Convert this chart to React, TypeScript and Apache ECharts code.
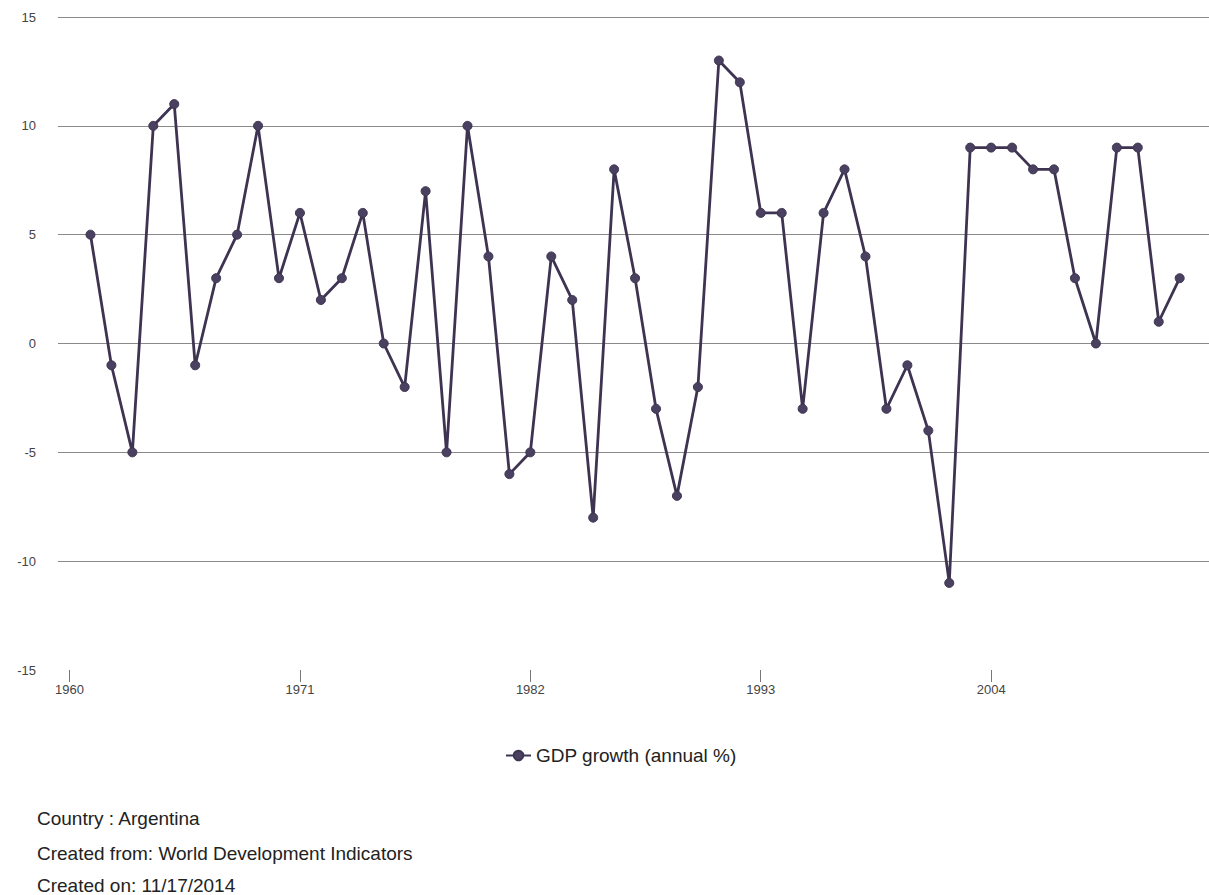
import React, { useEffect, useRef } from "react";
import * as echarts from "echarts";

const years: number[] = [
  1961, 1962, 1963, 1964, 1965, 1966, 1967, 1968, 1969, 1970,
  1971, 1972, 1973, 1974, 1975, 1976, 1977, 1978, 1979, 1980,
  1981, 1982, 1983, 1984, 1985, 1986, 1987, 1988, 1989, 1990,
  1991, 1992, 1993, 1994, 1995, 1996, 1997, 1998, 1999, 2000,
  2001, 2002, 2003, 2004, 2005, 2006, 2007, 2008, 2009, 2010,
  2011, 2012, 2013,
];

const gdpGrowth: number[] = [
  5, -1, -5, 10, 11, -1, 3, 5, 10, 3,
  6, 2, 3, 6, 0, -2, 7, -5, 10, 4,
  -6, -5, 4, 2, -8, 8, 3, -3, -7, -2,
  13, 12, 6, 6, -3, 6, 8, 4, -3, -1,
  -4, -11, 9, 9, 9, 8, 8, 3, 0, 9,
  9, 1, 3,
];

const xTickLabels: number[] = [1960, 1971, 1982, 1993, 2004];
const seriesName = "GDP growth (annual %)";
const footerLines: string[] = [
  "Country : Argentina",
  "Created from: World Development Indicators",
  "Created on: 11/17/2014",
];

export default function App() {
  const ref = useRef<HTMLDivElement>(null);

  useEffect(() => {
    if (!ref.current) return;
    const chart = echarts.init(ref.current, null, { renderer: "svg" });
    const lineColor = "#3e3452";
    const font = "'Liberation Sans', Arial, sans-serif";
    chart.setOption({
      animation: false,
      backgroundColor: "#ffffff",
      textStyle: { fontFamily: font },
      grid: { left: 58, right: 0, top: 17, bottom: 225, containLabel: false },
      xAxis: {
        type: "value",
        min: 1959.45,
        max: 2014.4,
        axisLine: { show: false, onZero: false },
        axisTick: {
          show: true,
          length: 12,
          customValues: xTickLabels,
          lineStyle: { color: "#777", width: 1 },
        },
        axisLabel: {
          customValues: xTickLabels,
          formatter: (v: number) => String(v),
          margin: 13,
          fontSize: 13,
          color: "#444",
          fontFamily: font,
        },
        splitLine: { show: false },
      },
      yAxis: {
        type: "value",
        min: -15,
        max: 15,
        interval: 5,
        axisLine: { show: false },
        axisTick: { show: false },
        axisLabel: { margin: 22, fontSize: 13, color: "#444", fontFamily: font },
        splitLine: {
          show: true,
          showMinLine: false,
          lineStyle: { color: "#8a8a8a", width: 1 },
        },
      },
      legend: {
        left: 500,
        top: 741,
        itemWidth: 25,
        itemHeight: 12,
        itemGap: 10,
        textStyle: { fontSize: 19, color: "#222", fontFamily: font },
        data: [seriesName],
      },
      series: [
        {
          name: seriesName,
          type: "line",
          data: years.map((y, i) => [y, gdpGrowth[i]]),
          symbol: "circle",
          symbolSize: 9,
          showSymbol: true,
          lineStyle: { color: lineColor, width: 2.8 },
          itemStyle: { color: "#4a4060", borderColor: lineColor, borderWidth: 1 },
        },
      ],
      graphic: footerLines.map((t, i) => ({
        type: "text",
        left: 37,
        top: [809, 844, 876][i],
        style: { text: t, fontSize: 19, fill: "#222", fontFamily: font },
      })),
    });
    return () => chart.dispose();
  }, []);

  return (
    <div
      ref={ref}
      style={{ position: "fixed", left: 0, top: 0, width: 1209, height: 895 }}
    />
  );
}
